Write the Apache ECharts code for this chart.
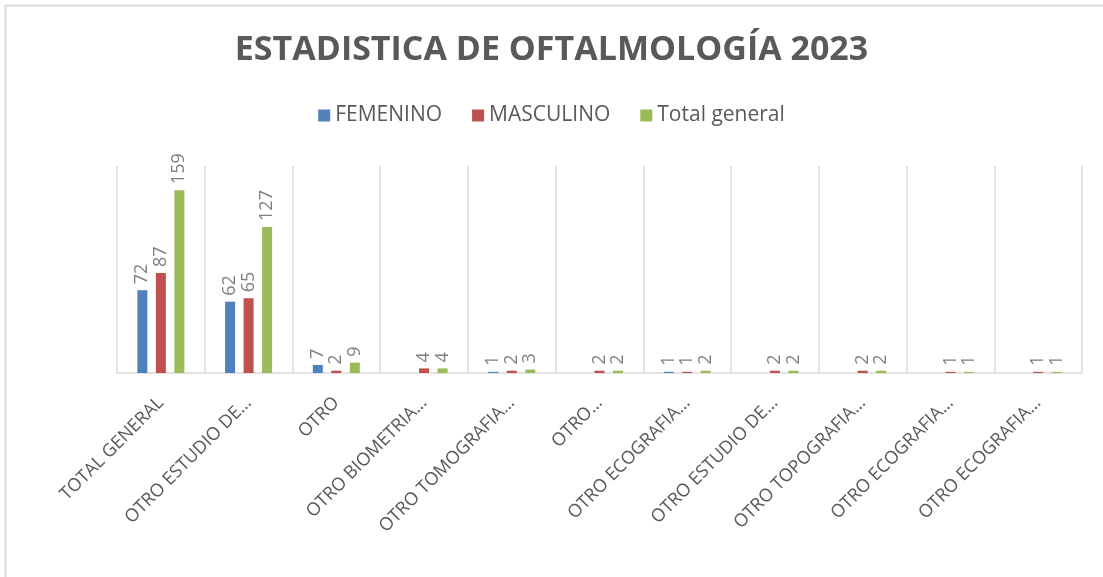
<!DOCTYPE html>
<html>
<head>
<meta charset="utf-8">
<script src="https://cdn.jsdelivr.net/npm/echarts@6/dist/echarts.min.js"></script>
<style>
  html, body { margin: 0; padding: 0; background: #fff; }
  #chart { width: 1103px; height: 577px; }
</style>
</head>
<body>
<div id="chart"></div>
<script>
// categorias del eje x (tal como aparecen)
const categories = [
  "TOTAL GENERAL", "OTRO ESTUDIO DE…", "OTRO", "OTRO BIOMETRIA…",
  "OTRO TOMOGRAFIA…", "OTRO…", "OTRO ECOGRAFIA…", "OTRO ESTUDIO DE…",
  "OTRO TOPOGRAFIA…", "OTRO ECOGRAFIA…", "OTRO ECOGRAFIA…"
];
const femenino = [72, 62, 7, null, 1, null, 1, null, null, null, null];
const masculino = [87, 65, 2, 4, 2, 2, 1, 2, 2, 1, 1];
const totalGeneral = [159, 127, 9, 4, 3, 2, 2, 2, 2, 1, 1];

const seriesNames = ["FEMENINO", "MASCULINO", "Total general"];
const colors = ["#4f81bd", "#c0504d", "#9bbb59"];

const myChart = echarts.init(document.getElementById("chart"));

const makeSeries = (name, data) => ({
  name: name,
  type: "bar",
  data: data,
  barWidth: 10,
  barGap: "85%",
  label: {
    show: true,
    position: "top",
    rotate: 90,
    align: "left",
    verticalAlign: "middle",
    distance: 6,
    color: "#7f7f7f",
    fontSize: 18,
    fontFamily: "Open Sans"
  }
});

const option = {
  color: colors,
  animation: false,
  title: {
    text: "ESTADISTICA DE OFTALMOLOGÍA 2023",
    left: "center",
    top: 28,
    textStyle: {
      color: "#595959",
      fontSize: 34,
      fontWeight: "bold",
      fontFamily: "Open Sans"
    }
  },
  legend: {
    top: 100,
    left: "center",
    itemWidth: 12,
    itemHeight: 12,
    itemGap: 30,
    icon: "rect",
    textStyle: { color: "#595959", fontSize: 21, fontFamily: "Open Sans" },
    data: seriesNames
  },
  grid: {
    left: 117,
    right: 21,
    top: 166,
    bottom: 204,
    containLabel: false
  },
  xAxis: {
    type: "category",
    data: categories,
    axisTick: { show: false },
    axisLine: { lineStyle: { color: "#d9d9d9", width: 1.5 } },
    axisLabel: {
      interval: 0,
      rotate: 45,
      margin: 27,
      color: "#595959",
      fontSize: 18,
      fontFamily: "Open Sans"
    },
    splitLine: {
      show: true,
      interval: 0,
      lineStyle: { color: "#d9d9d9", width: 1.5 }
    }
  },
  yAxis: {
    type: "value",
    min: 0,
    max: 180,
    show: false,
    splitLine: { show: false }
  },
  graphic: [{
    type: "rect",
    shape: { x: 5.5, y: 5.5, width: 1200, height: 700 },
    style: { fill: "none", stroke: "#d9d9d9", lineWidth: 2 },
    silent: true
  }],
  series: [
    makeSeries(seriesNames[0], femenino),
    makeSeries(seriesNames[1], masculino),
    makeSeries(seriesNames[2], totalGeneral)
  ]
};
myChart.setOption(option);
</script>
</body>
</html>
